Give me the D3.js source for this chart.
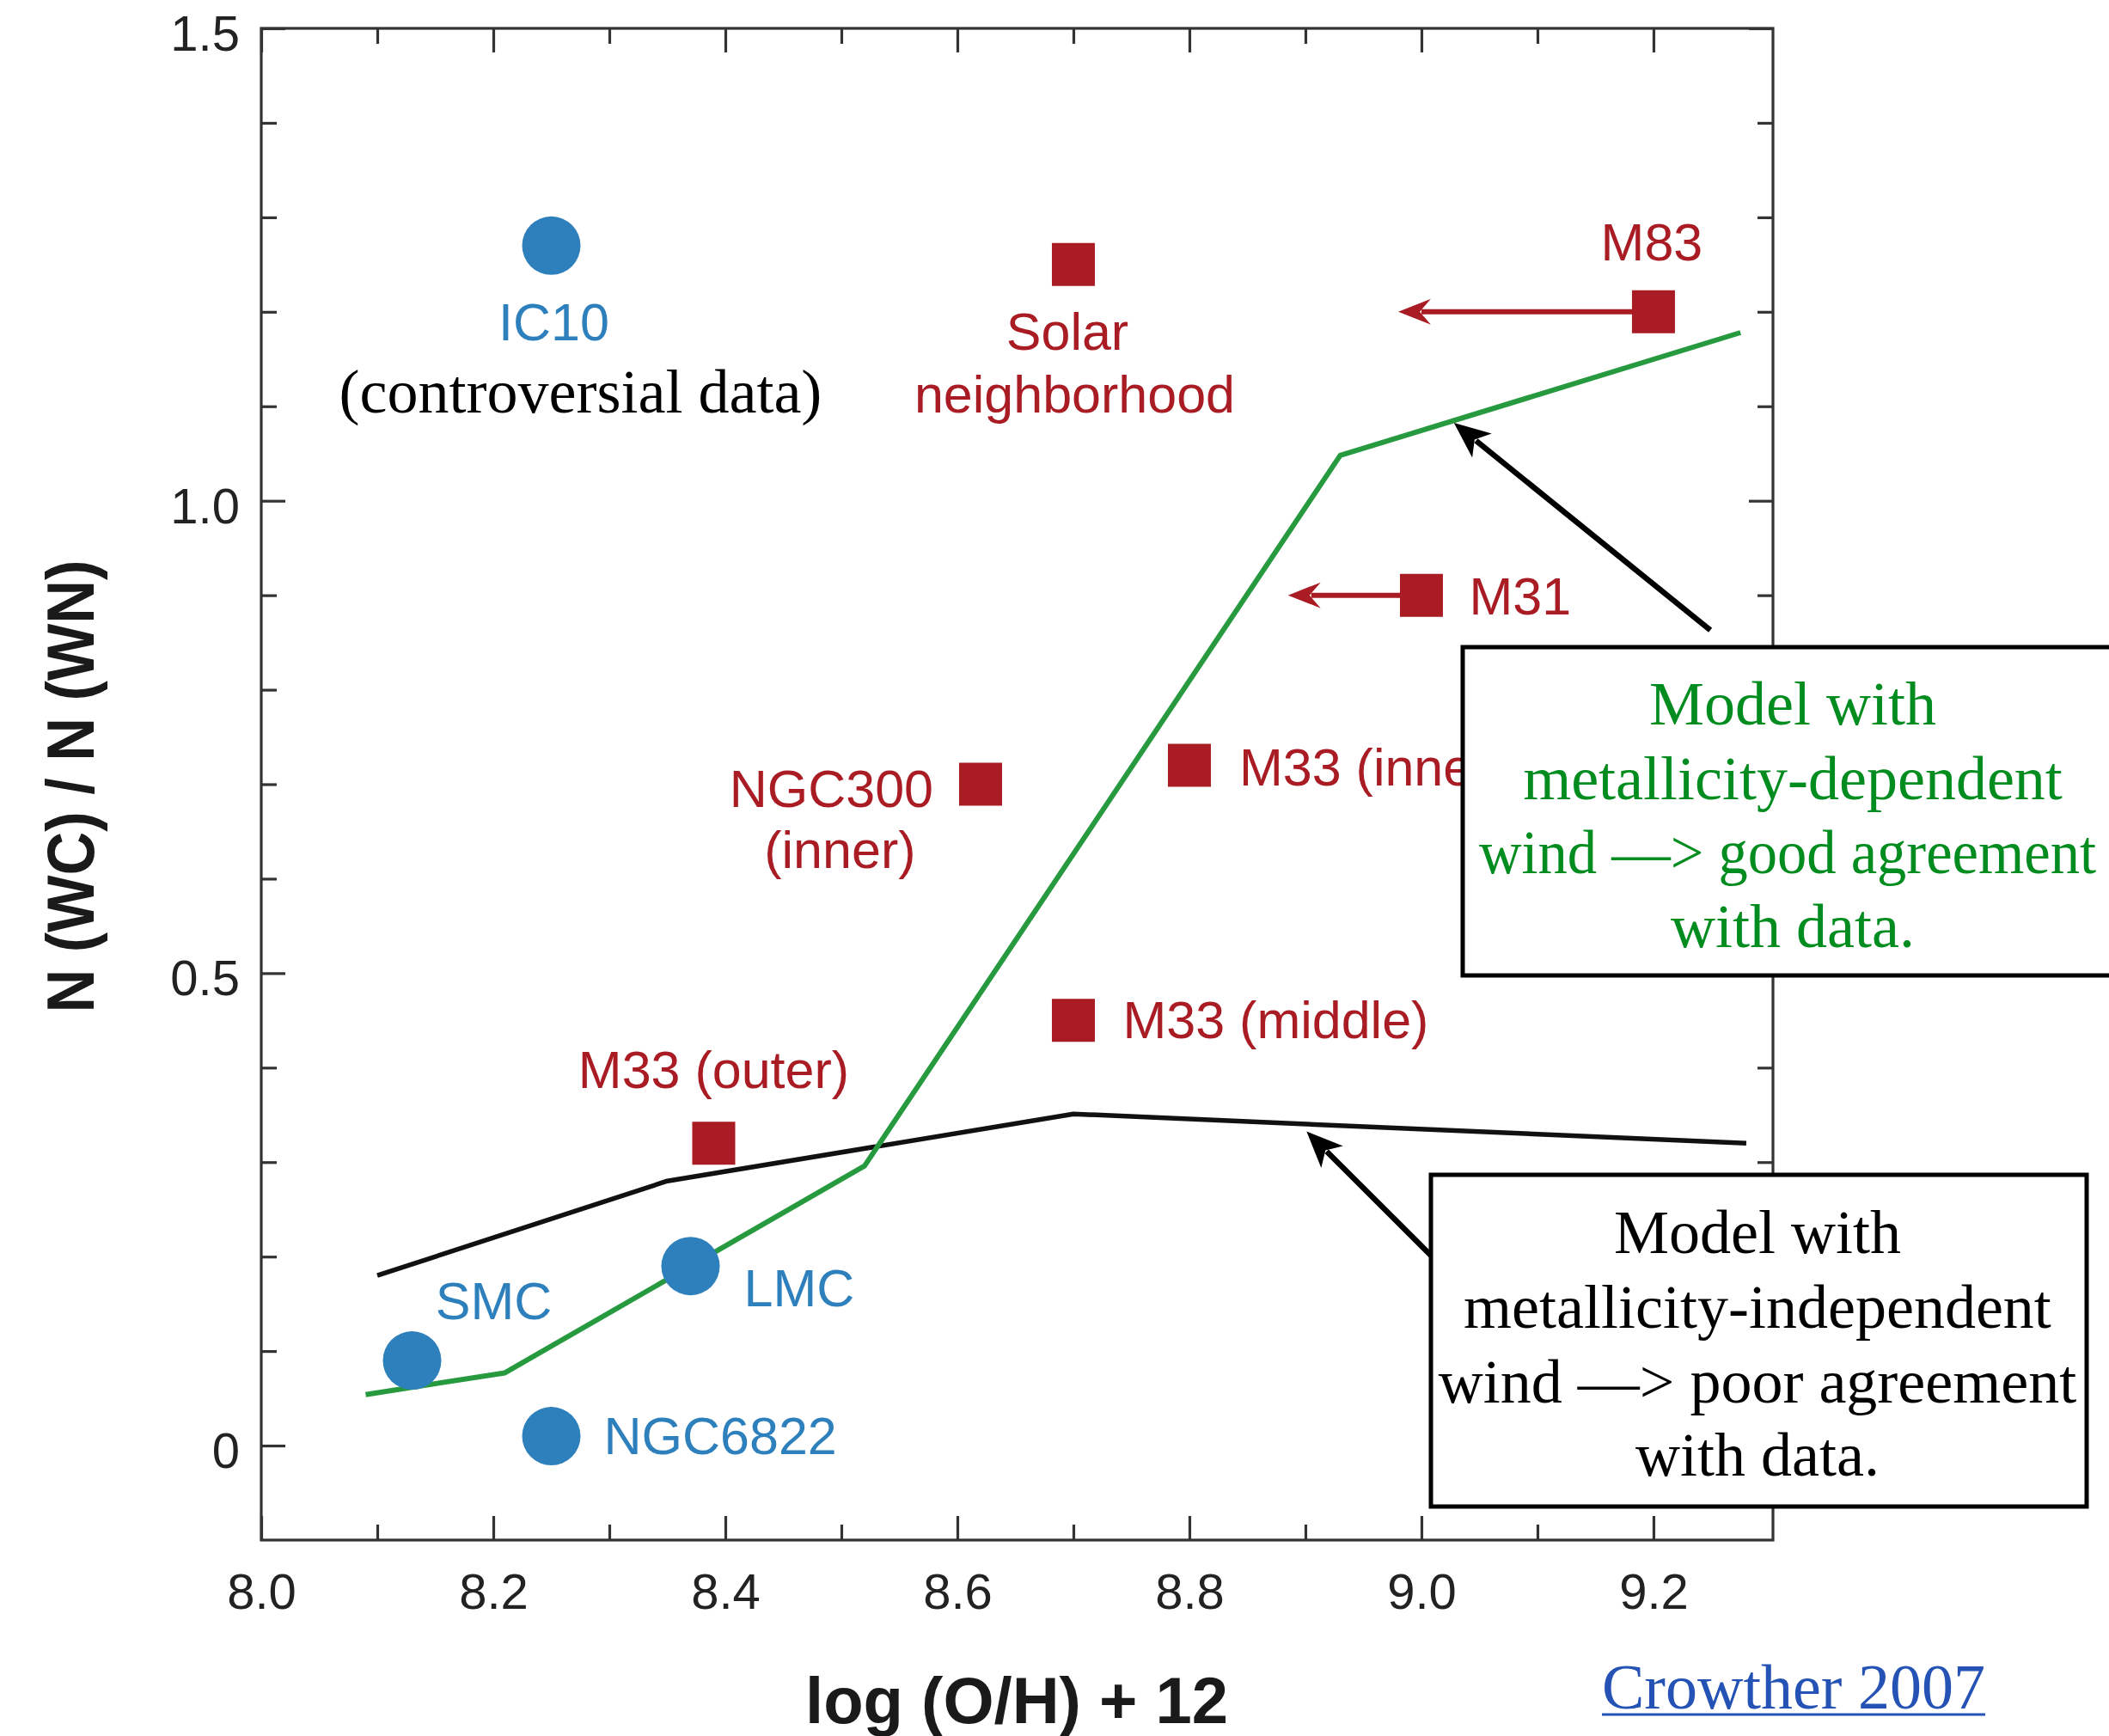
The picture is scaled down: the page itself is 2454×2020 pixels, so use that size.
<!DOCTYPE html>
<html>
<head>
<meta charset="utf-8">
<script src="https://cdn.jsdelivr.net/npm/d3@7"></script>
<style>
  html, body { margin: 0; padding: 0; background: #fff; }
  svg { display: block; }
</style>
</head>
<body>
<svg id="chart" width="2454" height="2020"></svg>
<script>
// WC/WN number ratio of Wolf-Rayet stars against oxygen abundance

// Observed galaxies with WC/WN counts (circles)
const circleNames = ["IC10", "SMC", "LMC", "NGC6822"];
const circleOH = [8.25, 8.13, 8.37, 8.25];
const circleRatio = [1.27, 0.09, 0.19, 0.01];

// Observed regions (squares)
const squareNames = ["Solar neighborhood", "M83", "M31", "NGC300 (inner)", "M33 (inner)", "M33 (middle)", "M33 (outer)"];
const squareOH = [8.70, 9.20, 9.00, 8.62, 8.80, 8.70, 8.39];
const squareRatio = [1.25, 1.20, 0.90, 0.70, 0.72, 0.45, 0.32];

// Abundance upper limits drawn as leftward arrows
const limitNames = ["M83", "M31"];
const limitOH = [8.98, 8.885];

// Evolutionary models
const modelZdepOH = [8.09, 8.21, 8.52, 8.93, 9.275];
const modelZdepRatio = [0.054, 0.077, 0.296, 1.048, 1.178];
const modelZindepOH = [8.10, 8.35, 8.70, 9.28];
const modelZindepRatio = [0.18, 0.28, 0.351, 0.32];

// Tick values
const xMajorTicks = [8.0, 8.2, 8.4, 8.6, 8.8, 9.0, 9.2];
const xMinorTicks = [8.1, 8.3, 8.5, 8.7, 8.9, 9.1];
const yMajorTicks = [0, 0.5, 1.0, 1.5];
const yMinorTicks = [0.1, 0.2, 0.3, 0.4, 0.6, 0.7, 0.8, 0.9, 1.1, 1.2, 1.3, 1.4];

// ---------------------------------------------------------------
const W = 2454, H = 2020;
const plot = { left: 304, top: 33, right: 2063, bottom: 1792 };

const SANS = "'Liberation Sans', Arial, Helvetica, sans-serif";
const SERIF = "'Liberation Serif', 'Times New Roman', serif";
const BLUE = "#2e80bd";
const RED = "#aa1c24";
const GREEN_LINE = "#279a3f";
const GREEN_TEXT = "#008c1e";
const AXIS = "#333";

const svg = d3.select("#chart").attr("viewBox", `0 0 ${W} ${H}`);
svg.append("rect").attr("width", W).attr("height", H).attr("fill", "#fff");

const x = d3.scaleLinear().domain([8.0, 9.303]).range([plot.left, plot.right]);
const y = d3.scaleLinear().domain([-0.1, 1.5]).range([plot.bottom, plot.top]);

// ---------- axes (ticks point inward on all four sides) ----------
const fmtX = d3.format(".1f");
const fmtY = d => d === 0 ? "0" : d3.format(".1f")(d);

function styleAxis(g) {
  g.select(".domain").remove();
  g.selectAll(".tick line").attr("stroke", AXIS).attr("stroke-width", 3.2);
  g.selectAll(".tick text")
    .attr("fill", "#222")
    .attr("font-family", SANS)
    .attr("font-size", 58);
}

svg.append("g").attr("transform", `translate(0,${plot.bottom})`)
  .call(d3.axisBottom(x).tickValues(xMajorTicks).tickSize(-28).tickPadding(39).tickFormat(fmtX))
  .call(styleAxis);
svg.append("g").attr("transform", `translate(0,${plot.bottom})`)
  .call(d3.axisBottom(x).tickValues(xMinorTicks).tickSize(-18).tickFormat(""))
  .call(styleAxis);
svg.append("g").attr("transform", `translate(0,${plot.top})`)
  .call(d3.axisTop(x).tickValues(xMajorTicks).tickSize(-28).tickFormat(""))
  .call(styleAxis);
svg.append("g").attr("transform", `translate(0,${plot.top})`)
  .call(d3.axisTop(x).tickValues(xMinorTicks).tickSize(-18).tickFormat(""))
  .call(styleAxis);

const leftAxis = svg.append("g").attr("transform", `translate(${plot.left},0)`)
  .call(d3.axisLeft(y).tickValues(yMajorTicks).tickSize(-28).tickPadding(25).tickFormat(fmtY))
  .call(styleAxis);
leftAxis.selectAll(".tick text").attr("dy", "0.44em");
svg.append("g").attr("transform", `translate(${plot.left},0)`)
  .call(d3.axisLeft(y).tickValues(yMinorTicks).tickSize(-18).tickFormat(""))
  .call(styleAxis);
svg.append("g").attr("transform", `translate(${plot.right},0)`)
  .call(d3.axisRight(y).tickValues(yMajorTicks).tickSize(-28).tickFormat(""))
  .call(styleAxis);
svg.append("g").attr("transform", `translate(${plot.right},0)`)
  .call(d3.axisRight(y).tickValues(yMinorTicks).tickSize(-18).tickFormat(""))
  .call(styleAxis);

// plot frame
svg.append("rect")
  .attr("x", plot.left).attr("y", plot.top)
  .attr("width", plot.right - plot.left).attr("height", plot.bottom - plot.top)
  .attr("fill", "none").attr("stroke", AXIS).attr("stroke-width", 3.2);

// axis titles
svg.append("text")
  .attr("x", 1183).attr("y", 2005)
  .attr("text-anchor", "middle")
  .attr("font-family", SANS).attr("font-weight", "bold").attr("font-size", 76)
  .attr("fill", "#1a1a1a")
  .text("log (O/H) + 12");

svg.append("text")
  .attr("transform", "translate(109,915) rotate(-90)")
  .attr("text-anchor", "middle")
  .attr("font-family", SANS).attr("font-weight", "bold").attr("font-size", 77)
  .attr("textLength", 527).attr("lengthAdjust", "spacingAndGlyphs")
  .attr("fill", "#1a1a1a")
  .text("N (WC) / N (WN)");

// ---------- model curves ----------
const line = d3.line().x(d => x(d[0])).y(d => y(d[1]));

svg.append("path")
  .datum(d3.zip(modelZindepOH, modelZindepRatio))
  .attr("d", line)
  .attr("fill", "none").attr("stroke", "#111").attr("stroke-width", 5.5)
  .attr("stroke-linejoin", "round");

svg.append("path")
  .datum(d3.zip(modelZdepOH, modelZdepRatio))
  .attr("d", line)
  .attr("fill", "none").attr("stroke", GREEN_LINE).attr("stroke-width", 6)
  .attr("stroke-linejoin", "round");

// ---------- arrow helper ----------
function arrow(g, x1, y1, x2, y2, color, width, len, halfW, notch) {
  const ang = Math.atan2(y2 - y1, x2 - x1);
  const ex = x2 - Math.cos(ang) * (notch + 2);
  const ey = y2 - Math.sin(ang) * (notch + 2);
  g.append("line")
    .attr("x1", x1).attr("y1", y1).attr("x2", ex).attr("y2", ey)
    .attr("stroke", color).attr("stroke-width", width);
  g.append("path")
    .attr("d", `M0,0 L${-len},${-halfW} L${-notch},0 L${-len},${halfW} Z`)
    .attr("transform", `translate(${x2},${y2}) rotate(${ang * 180 / Math.PI})`)
    .attr("fill", color);
}

// ---------- upper-limit arrows ----------
const limits = svg.append("g");
limitNames.forEach((name, i) => {
  const k = squareNames.indexOf(name);
  arrow(limits, x(squareOH[k]), y(squareRatio[k]), x(limitOH[i]), y(squareRatio[k]),
        RED, 6, 38, 15, 25);
});

// ---------- data points ----------
const circles = d3.zip(circleNames, circleOH, circleRatio);
svg.append("g").selectAll("circle")
  .data(circles).join("circle")
  .attr("cx", d => x(d[1])).attr("cy", d => y(d[2]))
  .attr("r", 34).attr("fill", BLUE);

const squares = d3.zip(squareNames, squareOH, squareRatio);
svg.append("g").selectAll("path")
  .data(squares).join("path")
  .attr("d", d3.symbol(d3.symbolSquare, 50 * 50))
  .attr("transform", d => `translate(${x(d[1])},${y(d[2])})`)
  .attr("fill", RED);

// ---------- point labels ----------
const labelLayout = {
  "IC10":               { lines: ["IC10"], dx: [3], dy: [110], anchor: "middle" },
  "SMC":                { lines: ["SMC"], dx: [95], dy: [-48], anchor: "middle" },
  "LMC":                { lines: ["LMC"], dx: [62], dy: [47], anchor: "start" },
  "NGC6822":            { lines: ["NGC6822"], dx: [61], dy: [21], anchor: "start" },
  "Solar neighborhood": { lines: ["Solar", "neighborhood"], dx: [-7, 1.5], dy: [99.5, 172.5], anchor: "middle" },
  "M83":                { lines: ["M83"], dx: [-2], dy: [-60], anchor: "middle" },
  "M31":                { lines: ["M31"], dx: [55.5], dy: [22], anchor: "start" },
  "NGC300 (inner)":     { lines: ["NGC300", "(inner)"], dx: [-173.6, -163.6], dy: [26, 97], anchor: "middle" },
  "M33 (inner)":        { lines: ["M33 (inner)"], dx: [58], dy: [23], anchor: "start" },
  "M33 (middle)":       { lines: ["M33 (middle)"], dx: [57.5], dy: [20.5], anchor: "start" },
  "M33 (outer)":        { lines: ["M33 (outer)"], dx: [0], dy: [-64.5], anchor: "middle" }
};

function drawLabels(points, color) {
  const g = svg.append("g")
    .attr("font-family", SANS).attr("font-size", 61).attr("fill", color);
  points.forEach(([name, ox, r]) => {
    const L = labelLayout[name];
    L.lines.forEach((t, j) => {
      g.append("text")
        .attr("x", x(ox) + L.dx[j]).attr("y", y(r) + L.dy[j])
        .attr("text-anchor", L.anchor)
        .text(t);
    });
  });
}
drawLabels(circles, BLUE);
drawLabels(squares, RED);

// note under IC10
{
  const k = circleNames.indexOf("IC10");
  svg.append("text")
    .attr("x", x(circleOH[k]) + 34).attr("y", y(circleRatio[k]) + 194)
    .attr("text-anchor", "middle")
    .attr("font-family", SERIF).attr("font-size", 72).attr("fill", "#000")
    .text("(controversial data)");
}

// ---------- annotation arrows pointing at the model curves ----------
const annot = svg.append("g");
const annotArrows = [
  { from: [9.249, 0.863], to: [9.028, 1.0825] },
  { from: [9.019, 0.188], to: [8.901, 0.3325] }
];
annotArrows.forEach(a => {
  arrow(annot, x(a.from[0]), y(a.from[1]), x(a.to[0]), y(a.to[1]), "#000", 6.5, 42, 18, 31);
});

// ---------- annotation boxes ----------
function noteBox(bx, by, bw, bh, cx, baselines, lines, color, fit) {
  const g = svg.append("g");
  g.append("rect")
    .attr("x", bx).attr("y", by).attr("width", bw).attr("height", bh)
    .attr("fill", "#fff").attr("stroke", "#000").attr("stroke-width", 5);
  lines.forEach((t, i) => {
    const txt = g.append("text")
      .attr("x", cx).attr("y", baselines[i])
      .attr("text-anchor", "middle")
      .attr("font-family", SERIF).attr("font-size", 72).attr("fill", color)
      .text(t);
    if (fit && fit[i]) {
      txt.attr("x", fit[i].cx)
        .attr("textLength", fit[i].len).attr("lengthAdjust", "spacingAndGlyphs");
    }
  });
}

noteBox(1702, 753, 780, 382, 2086, [843, 930, 1016, 1102],
  ["Model with", "metallicity-dependent", "wind \u2014> good agreement", "with data."], GREEN_TEXT,
  { 2: { cx: 2080, len: 718 } });

noteBox(1665, 1367, 763, 386, 2045, [1458, 1545, 1632, 1717],
  ["Model with", "metallicity-independent", "wind \u2014> poor agreement", "with data."], "#000");

// ---------- source reference ----------
const LINK = "#2553b5";
const ref = svg.append("text")
  .attr("x", 2087).attr("y", 1988)
  .attr("text-anchor", "middle")
  .attr("font-family", SERIF).attr("font-size", 74).attr("fill", LINK)
  .text("Crowther 2007");
const refW = ref.node().getComputedTextLength();
svg.append("line")
  .attr("x1", 2087 - refW / 2).attr("x2", 2087 + refW / 2)
  .attr("y1", 1995).attr("y2", 1995)
  .attr("stroke", LINK).attr("stroke-width", 3);
</script>
</body>
</html>
